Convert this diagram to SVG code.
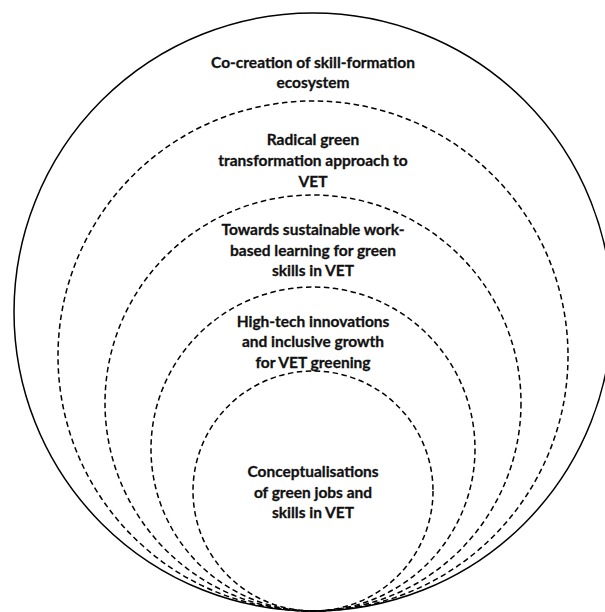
<svg xmlns="http://www.w3.org/2000/svg" width="605" height="612" viewBox="0 0 605 612">
  <style>
    .ring { fill: none; stroke: #000; stroke-width: 1.5; }
    .dash { stroke-dasharray: 5.5 3.5; }
    .lbl { font-family: Lato, "Liberation Sans", sans-serif; font-weight: bold; font-size: 15.5px; fill: #111; stroke: #111; stroke-width: 0.3; text-anchor: middle; }
  </style>
  <rect width="605" height="612" fill="#fff"/>
  <g id="ring1">
    <circle class="ring" cx="313" cy="312" r="299"/>
    <text class="lbl" x="313" y="68">Co-creation of skill-formation</text>
    <text class="lbl" x="313" y="88">ecosystem</text>
  </g>
  <g id="ring2">
    <circle class="ring dash" cx="313" cy="356" r="255"/>
    <text class="lbl" x="313" y="145">Radical green</text>
    <text class="lbl" x="313" y="166">transformation approach to</text>
    <text class="lbl" x="313" y="187">VET</text>
  </g>
  <g id="ring3">
    <circle class="ring dash" cx="313" cy="403" r="208"/>
    <text class="lbl" x="313" y="235">Towards sustainable work-</text>
    <text class="lbl" x="313" y="256">based learning for green</text>
    <text class="lbl" x="313" y="276">skills in VET</text>
  </g>
  <g id="ring4">
    <circle class="ring dash" cx="313" cy="449" r="162"/>
    <text class="lbl" x="313" y="327">High-tech innovations</text>
    <text class="lbl" x="313" y="347">and inclusive growth</text>
    <text class="lbl" x="313" y="368">for VET greening</text>
  </g>
  <g id="ring5">
    <circle class="ring dash" cx="313" cy="491" r="120"/>
    <text class="lbl" x="313" y="477">Conceptualisations</text>
    <text class="lbl" x="313" y="498">of green jobs and</text>
    <text class="lbl" x="313" y="518">skills in VET</text>
  </g>
  <g id="connectors"/>
</svg>
